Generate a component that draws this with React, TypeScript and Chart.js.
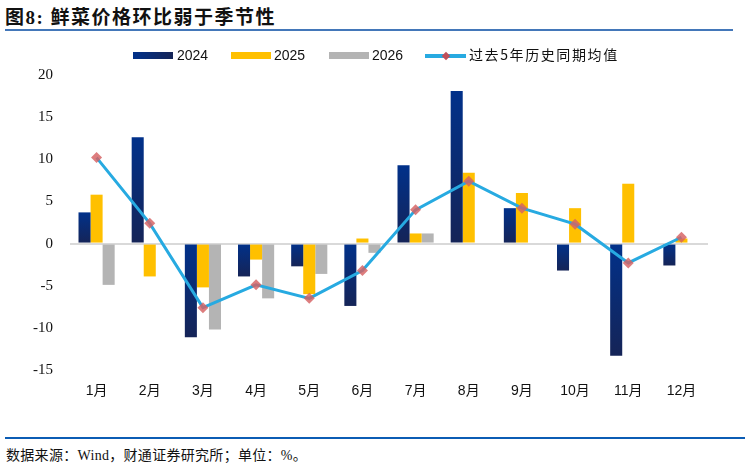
import React, { useEffect, useRef } from "react";
import { Chart, registerables } from "chart.js";

Chart.register(...registerables);

const categories = ["1月", "2月", "3月", "4月", "5月", "6月", "7月", "8月", "9月", "10月", "11月", "12月"];
const series2024 = [3.7, 12.6, -11.1, -3.9, -2.7, -7.4, 9.3, 18.1, 4.2, -3.2, -13.3, -2.6];
const series2025 = [5.8, -3.9, -5.2, -1.9, -6.0, 0.6, 1.2, 8.4, 6.0, 4.2, 7.1, 0.6];
const series2026 = [-4.9, null, -10.2, -6.5, -3.6, -1.1, 1.2, null, null, null, null, null];
const avg5y = [10.2, 2.4, -7.6, -4.9, -6.5, -3.2, 4.0, 7.4, 4.2, 2.3, -2.3, 0.75];
const yTicks = [20, 15, 10, 5, 0, -5, -10, -15];

const NAVY_TOP = "#01318a";
const NAVY_BOT = "#152457";
const GOLD = "#ffc000";
const GRAY = "#b4b4b4";
const LINE = "#27aae1";
const MARK = "rgba(214,96,98,0.82)";

export default function App() {
  const ref = useRef<HTMLCanvasElement | null>(null);

  useEffect(() => {
    if (!ref.current) return;
    const navyBg = (c: any) => {
      const chart = c.chart;
      if (!chart.chartArea) return NAVY_TOP;
      const v = c.raw as number;
      if (v == null) return NAVY_TOP;
      const ys = chart.scales.y;
      const y0 = ys.getPixelForValue(Math.max(v, 0));
      const y1 = ys.getPixelForValue(Math.min(v, 0));
      if (!isFinite(y0) || !isFinite(y1) || Math.abs(y1 - y0) < 1) return NAVY_TOP;
      const g = chart.ctx.createLinearGradient(0, y0, 0, y1);
      g.addColorStop(0, NAVY_TOP);
      g.addColorStop(1, NAVY_BOT);
      return g;
    };
    const chart = new Chart(ref.current, {
      type: "bar",
      data: {
        labels: categories,
        datasets: [
          {
            type: "line",
            label: "过去5年历史同期均值",
            data: avg5y,
            borderColor: LINE,
            borderWidth: 3,
            pointStyle: "rectRot",
            pointRadius: 5.5,
            pointBackgroundColor: MARK,
            pointBorderColor: MARK,
            pointBorderWidth: 0,
            tension: 0,
            order: 0,
          } as any,
          { label: "2024", data: series2024, backgroundColor: navyBg, order: 1 } as any,
          { label: "2025", data: series2025, backgroundColor: GOLD, order: 1 },
          { label: "2026", data: series2026, backgroundColor: GRAY, order: 1 },
        ],
      },
      options: {
        animation: false,
        responsive: false,
        maintainAspectRatio: false,
        layout: { padding: { top: 4.5, right: 40, bottom: 0, left: 0 } },
        datasets: { bar: { barPercentage: 1, categoryPercentage: 0.68 } },
        plugins: { legend: { display: false }, tooltip: { enabled: false }, title: { display: false } },
        scales: {
          x: {
            grid: { display: false, drawTicks: false },
            border: { display: false },
            ticks: {
              padding: 13,
              color: "#111",
              font: { family: "'Liberation Sans', 'Noto Sans CJK SC', sans-serif", size: 14 },
              maxRotation: 0,
            },
            afterFit: (s: any) => {
              s.height = 40;
            },
          },
          y: {
            min: -15,
            max: 20,
            afterBuildTicks: (s: any) => {
              s.ticks = yTicks.map((v) => ({ value: v }));
            },
            grid: {
              drawTicks: false,
              color: (c: any) => (c.tick && c.tick.value === 0 ? "#d9d9d9" : "rgba(0,0,0,0)"),
              lineWidth: 2,
            },
            border: { display: false },
            ticks: {
              padding: 17,
              color: "#111",
              font: { family: "'Liberation Serif', 'Times New Roman', serif", size: 15 },
            },
            afterFit: (s: any) => {
              s.width = 70;
            },
          },
        },
      },
    });
    return () => chart.destroy();
  }, []);

  const legendText: React.CSSProperties = {
    position: "absolute",
    top: 47,
    fontFamily: "'Liberation Sans', Arial, sans-serif",
    fontSize: 14,
    lineHeight: "17px",
    color: "#111",
    whiteSpace: "nowrap",
  };
  const box = (left: number, bg: string): React.CSSProperties => ({
    position: "absolute",
    left,
    top: 52,
    width: 40,
    height: 7,
    background: bg,
  });

  return (
    <div style={{ position: "fixed", left: 0, top: 0, width: 748, height: 469, background: "#fff", overflow: "hidden" }}>
      <canvas ref={ref} width={748} height={361} style={{ position: "absolute", left: 0, top: 49, width: 748, height: 361 }} />

      <div
        style={{
          position: "absolute",
          left: 5,
          top: 7,
          fontFamily: "'Liberation Serif', 'Noto Sans CJK SC', serif",
          fontWeight: "bold",
          fontSize: 19,
          lineHeight: "21px",
          letterSpacing: 1.5,
          color: "#111",
          whiteSpace: "nowrap",
        }}
      >
        图8: 鲜菜价格环比弱于季节性
      </div>
      <div style={{ position: "absolute", left: 5, top: 29, width: 728, height: 2, background: "#4377b9" }} />

      <div style={box(133, `linear-gradient(90deg, ${NAVY_TOP}, ${NAVY_BOT})`)} />
      <div style={{ ...legendText, left: 177 }}>2024</div>
      <div style={box(231, GOLD)} />
      <div style={{ ...legendText, left: 274 }}>2025</div>
      <div style={box(329, GRAY)} />
      <div style={{ ...legendText, left: 372 }}>2026</div>
      <div style={{ position: "absolute", left: 425, top: 54, width: 41, height: 3.5, background: LINE }} />
      <div
        style={{
          position: "absolute",
          left: 442.5,
          top: 52.5,
          width: 6,
          height: 6,
          background: "#c0505a",
          transform: "rotate(45deg)",
        }}
      />
      <div
        style={{
          ...legendText,
          left: 469,
          fontFamily: "'Noto Sans CJK SC', sans-serif",
          letterSpacing: 1.6,
          top: 46,
        }}
      >
        过去5年历史同期均值
      </div>

      <div style={{ position: "absolute", left: 5, top: 437, width: 740, height: 2, background: "#0b5cb4" }} />
      <div
        style={{
          position: "absolute",
          left: 6,
          top: 447,
          fontFamily: "'Liberation Serif', 'Noto Sans CJK SC', serif",
          fontSize: 14,
          lineHeight: "18px",
          letterSpacing: 0.3,
          color: "#111",
          whiteSpace: "nowrap",
        }}
      >
        数据来源：Wind，财通证券研究所；单位：%。
      </div>
    </div>
  );
}
